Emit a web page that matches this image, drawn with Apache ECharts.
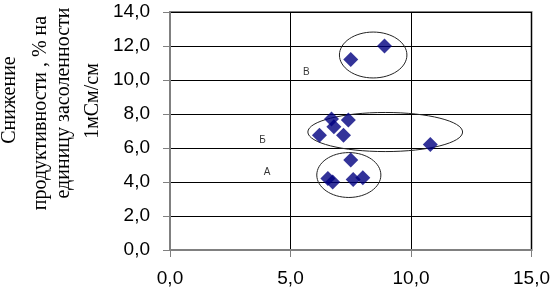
<!DOCTYPE html>
<html><head><meta charset="utf-8">
<script src="https://cdn.jsdelivr.net/npm/echarts@6/dist/echarts.min.js"></script>
<style>html,body{margin:0;padding:0;background:#fff}#c{width:553px;height:290px}</style>
</head><body><div id="c"></div>
<script>
var points = [
  [8.9, 12.0], [7.5, 11.2],
  [6.7, 7.7], [6.8, 7.25], [7.4, 7.65], [6.2, 6.75], [7.2, 6.75], [10.8, 6.2],
  [7.5, 5.3], [6.55, 4.2], [6.75, 4.0], [7.6, 4.15], [8.0, 4.25]
];
var groupLabels = [[5.66, 10.47, 'В'], [3.84, 6.47, 'Б'], [4.03, 4.57, 'А']];
var ellipses = [[8.43, 11.47, 1.40, 1.35], [8.93, 6.94, 3.21, 1.15], [7.42, 4.41, 1.33, 1.32]];
var yTitleLines = ['Снижение', 'продуктивности , % на', 'единицу засоленности', '1мСм/см'];

var chart = echarts.init(document.getElementById('c'));
function fmt(v){ return v.toFixed(1).replace('.', ','); }
var titleFont = '20px "Liberation Serif"';
chart.setOption({
  animation: false,
  grid: {left: 170, right: 21, top: 12, bottom: 40, show: true, borderColor: '#808080', borderWidth: 2},
  xAxis: {type: 'value', min: 0, max: 15, interval: 5,
    axisLine: {show: true, onZero: false, lineStyle: {color: '#808080', width: 2}},
    axisTick: {show: true, length: 7, lineStyle: {color: '#808080', width: 1}},
    axisLabel: {formatter: fmt, color: '#000', fontFamily: 'Liberation Sans', fontSize: 19, margin: 19},
    splitLine: {show: true, lineStyle: {color: '#000', width: 1}}},
  yAxis: {type: 'value', min: 0, max: 14, interval: 2,
    axisLine: {show: true, onZero: false, lineStyle: {color: '#808080', width: 2}},
    axisTick: {show: true, length: 7, lineStyle: {color: '#808080', width: 1}},
    axisLabel: {formatter: fmt, color: '#000', fontFamily: 'Liberation Sans', fontSize: 19, margin: 20},
    splitLine: {show: true, lineStyle: {color: '#000', width: 1}}},
  series: [
    {type: 'custom', data: ellipses, z: 1,
      renderItem: function(params, api){
        var c = api.coord([api.value(0), api.value(1)]);
        var s = api.size([api.value(2), api.value(3)]);
        return {type: 'ellipse', shape: {cx: c[0], cy: c[1], rx: s[0], ry: s[1]},
          style: {fill: null, stroke: '#222', lineWidth: 1}};
      }},
    {type: 'scatter', data: points, symbol: 'diamond', symbolSize: [15, 15], z: 3,
      itemStyle: {color: '#000080'}},
    {type: 'scatter', data: groupLabels, symbolSize: 0, z: 3,
      label: {show: true, position: 'inside', formatter: function(p){ return p.data[2]; },
        color: '#000', fontFamily: 'Liberation Sans', fontSize: 10}}
  ],
  graphic: [
    {type: 'text', x: 9.5, y: 100, rotation: Math.PI/2, style: {text: yTitleLines[0], font: titleFont, fill: '#000', textAlign: 'center', textVerticalAlign: 'middle'}},
    {type: 'text', x: 41, y: 113, rotation: Math.PI/2, style: {text: yTitleLines[1], font: titleFont, fill: '#000', textAlign: 'center', textVerticalAlign: 'middle'}},
    {type: 'text', x: 64, y: 103, rotation: Math.PI/2, style: {text: yTitleLines[2], font: titleFont, fill: '#000', textAlign: 'center', textVerticalAlign: 'middle'}},
    {type: 'text', x: 92.5, y: 101, rotation: Math.PI/2, style: {text: yTitleLines[3], font: titleFont, fill: '#000', textAlign: 'center', textVerticalAlign: 'middle'}}
  ]
});
</script></body></html>
